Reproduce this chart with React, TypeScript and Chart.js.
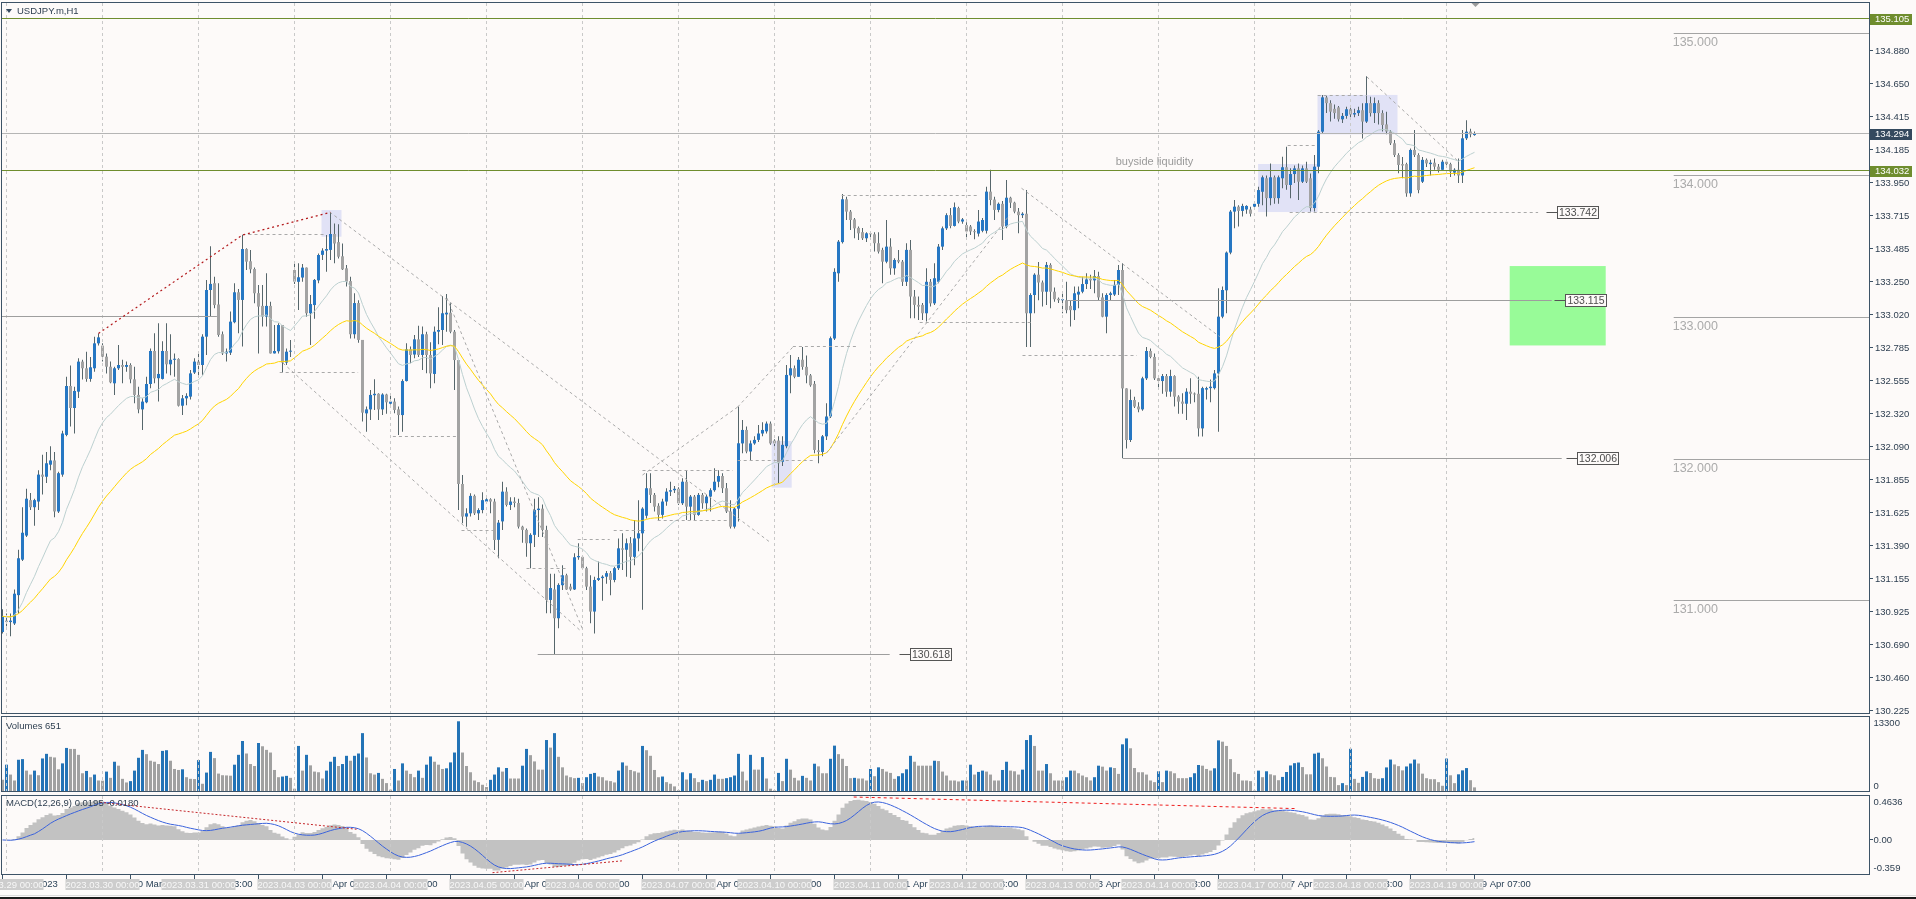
import React, { useEffect, useRef } from "react";
import { Chart, registerables } from "chart.js";

Chart.register(...registerables);

// ---------------- DATA (USDJPY.m, H1) ----------------
const OPEN = [
  130.78, 130.86, 130.85, 130.84, 131.04, 131.29, 131.46, 131.71, 131.66, 131.70,
  131.89, 131.875, 131.96, 131.99, 131.63, 131.89, 132.17, 132.515, 132.36, 132.475,
  132.687, 132.64, 132.565, 132.64, 132.816, 132.80, 132.722, 132.651, 132.534, 132.64,
  132.663, 132.65, 132.663, 132.562, 132.452, 132.35, 132.40, 132.529, 132.762, 132.57,
  132.565, 132.762, 132.668, 132.70, 132.705, 132.376, 132.428, 132.44, 132.61, 132.687,
  132.663, 132.863, 133.192, 133.24, 133.09, 132.88, 132.745, 132.75, 132.965, 133.176,
  133.122, 133.481, 133.395, 133.34, 133.17, 133.08, 133.004, 133.08, 132.745, 132.76,
  132.945, 132.68, 132.757, 133.333, 133.25, 133.28, 133.35, 133.028, 133.086, 133.26,
  133.44, 133.47, 133.475, 133.587, 133.53, 133.43, 133.345, 133.255, 132.88, 133.10,
  132.84, 132.322, 132.35, 132.45, 132.46, 132.35, 132.455, 132.39, 132.405, 132.35,
  132.31, 132.55, 132.774, 132.737, 132.844, 132.734, 132.88, 132.734, 132.60, 132.898,
  132.91, 133.02, 133.032, 132.898, 132.698, 131.824, 131.594, 131.617, 131.74, 131.617,
  131.64, 131.70, 131.716, 131.70, 131.43, 131.56, 131.77, 131.676, 131.70, 131.69,
  131.523, 131.50, 131.406, 131.465, 131.64, 131.65, 131.50, 131.006, 131.08, 130.877,
  131.11, 131.18, 131.10, 131.08, 131.307, 131.31, 131.23, 131.10, 130.924, 131.147,
  131.16, 131.17, 131.195, 131.147, 131.23, 131.37, 131.36, 131.406, 131.31, 131.44,
  131.476, 131.60, 131.794, 131.747, 131.67, 131.606, 131.70, 131.77, 131.78, 131.79,
  131.688, 131.84, 131.664, 131.735, 131.606, 131.747, 131.688, 131.735, 131.78, 131.84,
  131.88, 131.794, 131.63, 131.523, 131.65, 132.11, 132.205, 132.053, 132.11, 132.135,
  132.18, 132.195, 132.25, 132.13, 132.13, 131.98, 132.09, 132.59, 132.64, 132.58,
  132.70, 132.65, 132.59, 132.53, 132.06, 132.05, 132.16, 132.30, 132.85, 133.31,
  133.53, 133.832, 133.745, 133.69, 133.63, 133.60, 133.557, 133.59, 133.585, 133.522,
  133.475, 133.392, 133.498, 133.345, 133.404, 133.392, 133.25, 133.475, 133.146, 133.087,
  133.087, 133.028, 133.25, 133.098, 133.25, 133.498, 133.627, 133.72, 133.644, 133.77,
  133.675, 133.65, 133.64, 133.605, 133.59, 133.61, 133.61, 133.886, 133.83, 133.757,
  133.80, 133.64, 133.843, 133.808, 133.745, 133.72, 133.73, 133.028, 133.157, 133.30,
  133.245, 133.18, 133.369, 133.18, 133.13, 133.12, 133.12, 133.08, 133.05, 133.16,
  133.18, 133.234, 133.27, 133.26, 133.29, 133.14, 133.004, 133.157, 133.16, 133.228,
  133.333, 132.498, 132.134, 132.416, 132.37, 132.35, 132.569, 132.762, 132.72, 132.57,
  132.55, 132.585, 132.475, 132.585, 132.44, 132.405, 132.39, 132.475, 132.46, 132.46,
  132.216, 132.49, 132.50, 132.50, 132.604, 133.004, 133.19, 133.456, 133.745, 133.78,
  133.75, 133.76, 133.76, 133.78, 133.80, 133.885, 133.98, 133.84, 133.987, 133.84,
  133.98, 134.058, 133.933, 134.01, 134.05, 133.956, 134.05, 133.98, 133.77, 134.062,
  134.309, 134.55, 134.51, 134.47, 134.48, 134.396, 134.42, 134.467, 134.43, 134.44,
  134.46, 134.38, 134.51, 134.44, 134.51, 134.44, 134.36, 134.31, 134.227, 134.144,
  134.08, 134.08, 133.874, 134.18, 134.144, 133.956, 134.11, 134.08, 134.09, 134.062,
  134.04, 134.097, 134.08, 134.02, 134.04, 134.00, 134.262, 134.31, 134.285,
];

const HIGH = [
  130.94, 130.91, 130.91, 131.08, 131.36, 131.66, 131.79, 131.76, 131.72, 131.92,
  132.03, 132.05, 132.09, 132.05, 131.91, 132.20, 132.58, 132.66, 132.51, 132.71,
  132.70, 132.757, 132.72, 132.863, 132.886, 132.816, 132.745, 132.687, 132.651, 132.804,
  132.70, 132.687, 132.675, 132.65, 132.51, 132.428, 132.58, 132.78, 132.887, 132.957,
  132.83, 132.957, 132.88, 132.745, 132.71, 132.452, 132.463, 132.628, 132.71, 132.745,
  132.88, 133.263, 133.50, 133.286, 133.24, 132.90, 132.78, 133.04, 133.24, 133.20,
  133.58, 133.486, 133.474, 133.35, 133.227, 133.227, 133.31, 133.11, 132.945, 132.957,
  132.945, 132.78, 132.84, 133.392, 133.38, 133.376, 133.35, 133.157, 133.27, 133.45,
  133.486, 133.58, 133.74, 133.662, 133.655, 133.52, 133.368, 133.286, 133.17, 133.12,
  132.84, 132.37, 132.487, 132.562, 132.463, 132.463, 132.46, 132.45, 132.428, 132.37,
  132.562, 132.816, 132.793, 132.875, 132.94, 132.934, 132.898, 132.823, 132.934, 133.07,
  133.15, 133.164, 133.098, 132.91, 132.698, 131.887, 131.652, 131.758, 131.75, 131.652,
  131.765, 131.723, 131.723, 131.72, 131.57, 131.84, 131.80, 131.73, 131.73, 131.72,
  131.53, 131.51, 131.477, 131.72, 131.73, 131.68, 131.53, 131.19, 131.19, 131.124,
  131.25, 131.19, 131.12, 131.335, 131.406, 131.32, 131.24, 131.18, 131.17, 131.277,
  131.18, 131.21, 131.21, 131.24, 131.44, 131.476, 131.44, 131.45, 131.57, 131.71,
  131.66, 131.90, 131.90, 131.76, 131.688, 131.72, 131.794, 131.84, 131.81, 131.80,
  131.865, 131.92, 131.747, 131.747, 131.76, 131.76, 131.75, 131.794, 131.935, 131.92,
  131.90, 131.83, 131.71, 131.66, 132.37, 132.275, 132.23, 132.13, 132.16, 132.24,
  132.26, 132.264, 132.264, 132.14, 132.16, 132.16, 132.664, 132.734, 132.66, 132.72,
  132.79, 132.73, 132.60, 132.55, 132.135, 132.17, 132.393, 132.864, 133.345, 133.545,
  133.87, 133.85, 133.757, 133.70, 133.64, 133.63, 133.60, 133.605, 133.60, 133.60,
  133.49, 133.686, 133.557, 133.416, 133.475, 133.404, 133.522, 133.545, 133.193, 133.146,
  133.10, 133.345, 133.27, 133.38, 133.517, 133.64, 133.733, 133.77, 133.81, 133.78,
  133.70, 133.67, 133.65, 133.62, 133.757, 133.70, 133.92, 134.04, 133.85, 133.81,
  133.82, 133.968, 133.85, 133.815, 133.77, 133.74, 133.897, 133.169, 133.31, 133.39,
  133.26, 133.39, 133.38, 133.21, 133.14, 133.169, 133.25, 133.12, 133.216, 133.216,
  133.286, 133.31, 133.30, 133.333, 133.32, 133.17, 133.17, 133.18, 133.263, 133.369,
  133.38, 132.50, 132.49, 132.44, 132.40, 132.58, 132.79, 132.78, 132.745, 132.59,
  132.60, 132.60, 132.63, 132.59, 132.45, 132.463, 132.50, 132.569, 132.47, 132.58,
  132.51, 132.51, 132.56, 132.628, 133.204, 133.216, 133.463, 133.757, 133.827, 133.79,
  133.80, 133.79, 133.78, 133.81, 133.92, 134.00, 134.00, 134.085, 134.00, 134.00,
  134.132, 134.203, 134.05, 134.07, 134.085, 134.07, 134.097, 134.014, 134.144, 134.32,
  134.567, 134.56, 134.53, 134.50, 134.49, 134.44, 134.485, 134.48, 134.47, 134.485,
  134.51, 134.70, 134.555, 134.55, 134.53, 134.46, 134.45, 134.32, 134.25, 134.156,
  134.13, 134.09, 134.19, 134.32, 134.156, 134.13, 134.12, 134.11, 134.12, 134.08,
  134.11, 134.11, 134.09, 134.05, 134.12, 134.32, 134.39, 134.33, 134.31,
];

const LOW = [
  130.77, 130.82, 130.75, 130.83, 130.91, 131.28, 131.45, 131.64, 131.53, 131.64,
  131.75, 131.83, 131.92, 131.59, 131.62, 131.875, 132.16, 132.23, 132.18, 132.43,
  132.56, 132.545, 132.545, 132.616, 132.80, 132.687, 132.604, 132.534, 132.452, 132.628,
  132.534, 132.616, 132.534, 132.393, 132.322, 132.205, 132.393, 132.50, 132.534, 132.405,
  132.56, 132.604, 132.59, 132.58, 132.37, 132.31, 132.38, 132.42, 132.60, 132.58,
  132.59, 132.734, 133.004, 133.063, 132.863, 132.734, 132.687, 132.734, 132.957, 132.887,
  132.793, 133.333, 133.31, 133.098, 132.745, 132.934, 132.934, 132.745, 132.745, 132.745,
  132.61, 132.663, 132.72, 133.235, 133.051, 133.25, 133.004, 132.805, 132.99, 133.24,
  133.404, 133.32, 133.404, 133.38, 133.415, 133.333, 133.216, 132.85, 132.85, 132.82,
  132.264, 132.193, 132.275, 132.346, 132.275, 132.31, 132.32, 132.385, 132.322, 132.17,
  132.193, 132.546, 132.675, 132.71, 132.72, 132.628, 132.605, 132.50, 132.534, 132.81,
  132.805, 132.898, 132.887, 132.487, 131.64, 131.547, 131.523, 131.594, 131.606, 131.57,
  131.617, 131.70, 131.617, 131.358, 131.30, 131.50, 131.665, 131.64, 131.66, 131.51,
  131.41, 131.31, 131.23, 131.38, 131.45, 131.45, 130.912, 130.912, 130.618, 130.806,
  131.077, 131.077, 131.07, 131.077, 131.29, 131.217, 131.077, 130.842, 130.77, 131.14,
  131.00, 131.12, 131.04, 131.13, 131.217, 131.217, 131.17, 131.16, 131.25, 131.35,
  130.936, 131.58, 131.69, 131.63, 131.57, 131.58, 131.67, 131.74, 131.76, 131.676,
  131.676, 131.57, 131.57, 131.57, 131.60, 131.65, 131.63, 131.63, 131.77, 131.80,
  131.76, 131.62, 131.51, 131.51, 131.56, 132.04, 132.04, 131.99, 132.10, 132.12,
  132.16, 132.18, 132.10, 132.09, 131.83, 131.95, 132.076, 132.464, 132.57, 132.58,
  132.63, 132.534, 132.51, 132.04, 131.97, 132.02, 132.135, 132.29, 132.84, 133.25,
  133.52, 133.686, 133.616, 133.557, 133.545, 133.545, 133.53, 133.545, 133.463, 133.45,
  133.24, 133.38, 133.30, 133.30, 133.38, 133.22, 133.22, 132.993, 132.993, 132.98,
  132.98, 132.97, 133.075, 133.087, 133.24, 133.475, 133.615, 133.627, 133.64, 133.663,
  133.66, 133.55, 133.58, 133.55, 133.57, 133.60, 133.59, 133.79, 133.686, 133.74,
  133.545, 133.627, 133.77, 133.733, 133.592, 133.70, 132.79, 132.79, 133.028, 133.12,
  133.075, 133.087, 133.063, 133.11, 133.10, 133.028, 133.028, 132.934, 132.98, 133.063,
  133.169, 133.20, 133.20, 133.17, 133.12, 133.00, 132.887, 133.12, 133.15, 133.157,
  132.006, 132.075, 132.12, 132.36, 132.33, 132.34, 132.557, 132.71, 132.557, 132.50,
  132.46, 132.44, 132.44, 132.37, 132.32, 132.32, 132.275, 132.39, 132.40, 132.158,
  132.158, 132.42, 132.40, 132.49, 132.193, 132.993, 133.028, 133.445, 133.627, 133.64,
  133.71, 133.73, 133.71, 133.77, 133.78, 133.79, 133.71, 133.79, 133.80, 133.80,
  133.91, 133.90, 133.84, 133.946, 133.827, 133.946, 133.946, 133.745, 133.745, 134.015,
  134.30, 134.44, 134.38, 134.40, 134.38, 134.37, 134.40, 134.41, 134.41, 134.42,
  134.26, 134.37, 134.415, 134.37, 134.36, 134.31, 134.29, 134.215, 134.13, 134.015,
  133.98, 133.85, 133.85, 134.13, 133.874, 133.946, 134.06, 134.00, 134.04, 134.02,
  134.04, 134.06, 133.99, 134.00, 133.946, 133.946, 134.25, 134.27, 134.28,
];

const CLOSE = [
  130.89, 130.85, 130.86, 131.05, 131.30, 131.48, 131.72, 131.66, 131.71, 131.89,
  131.875, 131.97, 131.99, 131.63, 131.90, 132.18, 132.515, 132.36, 132.48, 132.687,
  132.64, 132.565, 132.647, 132.816, 132.858, 132.722, 132.651, 132.541, 132.64, 132.663,
  132.65, 132.663, 132.562, 132.452, 132.35, 132.405, 132.529, 132.762, 132.569, 132.60,
  132.762, 132.668, 132.70, 132.705, 132.376, 132.428, 132.445, 132.604, 132.687, 132.663,
  132.863, 133.192, 133.235, 133.086, 132.875, 132.745, 132.757, 132.969, 133.176, 133.122,
  133.481, 133.392, 133.338, 133.169, 133.075, 133.004, 133.08, 132.745, 132.762, 132.945,
  132.68, 132.757, 132.762, 133.251, 133.282, 133.35, 133.028, 133.093, 133.263, 133.439,
  133.47, 133.481, 133.587, 133.52, 133.427, 133.338, 133.251, 132.88, 133.10, 132.84,
  132.327, 132.35, 132.452, 132.46, 132.35, 132.455, 132.40, 132.405, 132.346, 132.31,
  132.55, 132.774, 132.734, 132.844, 132.734, 132.88, 132.734, 132.604, 132.898, 132.91,
  133.028, 133.032, 132.898, 132.698, 131.824, 131.594, 131.617, 131.74, 131.617, 131.64,
  131.71, 131.716, 131.70, 131.429, 131.551, 131.77, 131.676, 131.70, 131.69, 131.523,
  131.50, 131.406, 131.465, 131.641, 131.65, 131.50, 131.006, 131.09, 130.877, 131.112,
  131.18, 131.08, 131.08, 131.307, 131.316, 131.23, 131.10, 130.924, 131.147, 131.16,
  131.17, 131.195, 131.147, 131.23, 131.37, 131.36, 131.406, 131.31, 131.44, 131.476,
  131.65, 131.794, 131.747, 131.664, 131.606, 131.70, 131.77, 131.78, 131.79, 131.688,
  131.84, 131.664, 131.735, 131.606, 131.747, 131.688, 131.735, 131.78, 131.84, 131.88,
  131.794, 131.63, 131.523, 131.65, 132.111, 132.205, 132.053, 132.11, 132.135, 132.18,
  132.205, 132.25, 132.11, 132.11, 131.97, 132.10, 132.593, 132.64, 132.58, 132.70,
  132.65, 132.59, 132.52, 132.064, 132.05, 132.16, 132.30, 132.852, 133.32, 133.533,
  133.832, 133.745, 133.686, 133.627, 133.592, 133.557, 133.592, 133.585, 133.522, 133.463,
  133.392, 133.498, 133.345, 133.404, 133.392, 133.25, 133.475, 133.146, 133.087, 133.075,
  133.028, 133.25, 133.098, 133.275, 133.498, 133.627, 133.72, 133.644, 133.776, 133.675,
  133.69, 133.605, 133.605, 133.60, 133.675, 133.686, 133.886, 133.827, 133.757, 133.80,
  133.64, 133.843, 133.808, 133.745, 133.72, 133.73, 133.028, 133.157, 133.30, 133.245,
  133.18, 133.369, 133.18, 133.127, 133.12, 133.125, 133.05, 133.05, 133.169, 133.18,
  133.234, 133.267, 133.26, 133.29, 133.14, 133.004, 133.157, 133.169, 133.228, 133.333,
  132.498, 132.134, 132.416, 132.37, 132.35, 132.569, 132.762, 132.72, 132.569, 132.55,
  132.585, 132.475, 132.585, 132.44, 132.405, 132.39, 132.475, 132.46, 132.455, 132.216,
  132.50, 132.50, 132.51, 132.604, 133.004, 133.192, 133.456, 133.745, 133.78, 133.75,
  133.785, 133.785, 133.73, 133.80, 133.897, 133.987, 133.84, 133.987, 133.84, 133.987,
  134.058, 133.933, 134.01, 134.05, 133.956, 134.05, 133.956, 133.77, 134.062, 134.309,
  134.551, 134.51, 134.45, 134.44, 134.396, 134.42, 134.467, 134.43, 134.44, 134.46,
  134.38, 134.51, 134.44, 134.51, 134.44, 134.356, 134.31, 134.227, 134.144, 134.074,
  134.07, 133.874, 134.18, 134.144, 133.897, 134.11, 134.085, 134.09, 134.062, 134.04,
  134.097, 134.08, 134.027, 134.04, 134.00, 134.262, 134.309, 134.29, 134.294,
];

const VOLUME = [
  2010, 4730, 2955, 1890, 5615, 5730, 3665, 2955, 3665, 2835,
  5850, 6680, 6145, 6030, 3900, 4965, 7740, 7565, 7565, 6500,
  3190, 3605, 2480, 2955, 1890, 1850, 3490, 2365, 5260, 4550,
  2185, 1535, 1775, 3665, 5970, 7390, 6620, 5440, 5260, 4845,
  7210, 7330, 5440, 3960, 3780, 3900, 2480, 2185, 2150, 5555,
  1300, 3310, 7030, 5910, 3130, 2835, 2800, 2750, 4730, 6500,
  8985, 6740, 4845, 4490, 8630, 8040, 7390, 6915, 3780, 2480,
  2600, 2720, 2365, 415, 8100, 3665, 6500, 4610, 3490, 3370,
  2245, 3665, 5260, 6145, 4490, 4845, 6325, 5440, 6325, 6740,
  10400, 6030, 3190, 2955, 3250, 2185, 1420, 240, 3960, 1890,
  4965, 3665, 3075, 2480, 3665, 2365, 4730, 6205, 5260, 4730,
  3960, 4080, 5140, 6915, 12530, 6915, 4490, 3370, 1890, 1595,
  1120, 710, 2010, 2955, 4255, 3490, 4135, 2245, 2245, 2245,
  4550, 7565, 6440, 5320, 3840, 3840, 9160, 7800, 10400, 6145,
  4255, 2780, 2480, 2305, 2365, 1420, 2480, 3075, 3250, 2600,
  2480, 1890, 1775, 1535, 3665, 5140, 4550, 3780, 3545, 3310,
  8100, 7330, 6325, 3780, 2480, 2600, 1595, 1300, 830, 150,
  3370, 2070, 3190, 2305, 1595, 2010, 1775, 2010, 2955, 2185,
  2185, 2305, 2480, 2780, 6680, 3490, 1890, 6500, 3840, 3840,
  6090, 2245, 415, 120, 3250, 1775, 5790, 3840, 2365, 1890,
  2720, 2365, 1890, 4905, 4430, 3190, 3190, 5790, 8155, 6620,
  5790, 4490, 2305, 2365, 2245, 2245, 1890, 3960, 2660, 4255,
  3960, 3490, 3250, 2185, 2660, 3190, 3900, 6325, 5260, 4550,
  4550, 4550, 4550, 5440, 5380, 3490, 2780, 1890, 1890, 1715,
  1890, 1890, 4730, 2955, 3430, 3665, 3490, 2955, 1890, 1890,
  3780, 5260, 3665, 3545, 2955, 3840, 9160, 10050, 8100, 3665,
  3665, 4845, 3190, 1890, 1890, 1890, 2480, 3665, 3665, 3190,
  2780, 2480, 1890, 2480, 4550, 4375, 3665, 4255, 4135, 3075,
  8390, 9455, 7680, 4135, 3370, 3370, 2955, 1890, 1595, 3545,
  1595, 3665, 3545, 3190, 2305, 2305, 2305, 2480, 3190, 4670,
  4550, 3960, 3665, 4080, 9100, 8865, 8100, 5730, 3370, 3075,
  1890, 1890, 1775, 100, 3665, 2480, 3545, 3000, 2825, 1940,
  2530, 3410, 4590, 5000, 5120, 4300, 3000, 3000, 6710, 6885,
  5885, 4410, 2530, 2470, 1060, 1410, 1060, 7590, 2180, 1470,
  2530, 3530, 3240, 2300, 2180, 2300, 4240, 5650, 4770, 4470,
  3710, 4410, 4940, 5650, 4940, 3120, 2300, 2120, 2120, 1590,
  940, 5830, 2825, 1410, 3000, 3710, 4120, 1940, 651,
];

// right price-axis tick labels
const PRICE_TICKS = [
  134.88, 134.65, 134.415, 134.185, 133.95, 133.715, 133.485, 133.25, 133.02, 132.785,
  132.555, 132.32, 132.09, 131.855, 131.625, 131.39, 131.155, 130.925, 130.69, 130.46, 130.225,
];
// trading days (period separators at bar 1 + 24k)
const DAYS = [
  "2023.03.29", "2023.03.30", "2023.03.31", "2023.04.03", "2023.04.04", "2023.04.05",
  "2023.04.06", "2023.04.07", "2023.04.10", "2023.04.11", "2023.04.12", "2023.04.13",
  "2023.04.14", "2023.04.17", "2023.04.18", "2023.04.19",
];
const FIRST_BAR_LABEL = "28 Mar 2023";
const MONTHS: Record<string, string> = { "03": "Mar", "04": "Apr" };

const GREEN_LEVELS = [135.105, 134.032];
const BID_LEVEL = 134.294;
const ROUND_LEVELS = [135, 134, 133, 132, 131];
const ROUND_LEVEL_START = 417.8;

// dashed structure lines: [bar0, price0, bar1, price1]
const DASHED_LINES: number[][] = [
  [60, 133.587, 81, 133.587],
  [81.8, 133.742, 191.8, 131.415],
  [111.1, 133.136, 145.1, 130.794],
  [70.1, 132.677, 144.3, 130.794],
  [69.3, 132.612, 88.9, 132.612],
  [97.6, 132.162, 113.6, 132.162],
  [114.75, 131.496, 122.6, 131.496],
  [131, 131.23, 141, 131.23],
  [143.8, 131.43, 151.8, 131.43],
  [152.8, 131.495, 160.6, 131.495],
  [160, 131.918, 182.6, 131.918],
  [163.8, 131.565, 181.3, 131.565],
  [183.8, 131.99, 202.6, 131.99],
  [160, 131.887, 183.8, 132.367],
  [183.8, 132.367, 197.6, 132.79],
  [197.6, 132.792, 213.6, 132.792],
  [206, 132.043, 251.8, 133.722],
  [209.8, 133.862, 243.6, 133.862],
  [229.3, 132.965, 257.6, 132.965],
  [254.75, 133.91, 304.3, 132.863],
  [255, 132.727, 283.6, 132.727],
  [321.3, 134.208, 328.8, 134.208],
  [321.8, 133.742, 383.9, 133.742],
  [328.8, 134.567, 341.1, 134.567],
  [341.1, 134.695, 363.6, 134.109],
];
const RED_DOTTED = [[24, 132.886], [60, 133.58], [82, 133.74]];
// solid grey levels: [fromBar, toBar, price]
const SOLID_LEVELS = [
  [-1, 53.6, 133.005],
  [133.8, 221.8, 130.618],
  [266.1, 387.3, 133.115],
  [280.1, 389.8, 132.006],
];
// price tags: [bar of box left edge, price]
const PRICE_TAGS = [
  [226.8, 130.618],
  [388.6, 133.742],
  [390.6, 133.115],
  [393.6, 132.006],
];
// lavender boxes: [bar0, bar1, priceLow, priceHigh]
const HIGHLIGHT_BOXES = [
  [79.75, 84.75, 133.568, 133.756],
  [192.3, 197.3, 131.798, 132.127],
  [313.9, 328.75, 133.742, 134.081],
  [328.75, 348.75, 134.29, 134.568],
];
const TARGET_ZONE = [376.8, 400.8, 132.801, 133.361];
const NOTE_TEXT = "buyside liquidity";
const NOTE_POS = [278.3, 134.077];
// MACD divergence lines: [bar0, value0, bar1, value1]
const MACD_RED_LINES = [
  [24.4, 0.397, 88.5, 0.113],
  [122.5, -0.345, 155, -0.22],
  [212.8, 0.453, 323.1, 0.331],
];
const MACD_SCALE = [-0.359, 0.4636];
const VOLUME_MAX = 13300;

// ---------------- LAYOUT / STYLE ----------------
const W = 1916;
const H = 899;
const PLOT_LEFT = 2;
const PLOT_RIGHT = 1869;
const BAR_PX = 4;
const X_MIN = -0.125;
const X_MAX = X_MIN + (PLOT_RIGHT - PLOT_LEFT) / BAR_PX;
const PRICE_MAX = 135.2164;
const PRICE_MIN = 130.2086;

const BG = "#fdfaf9";
const FRAME = "#3d5367";
const AXIS_TEXT = "#2d3e50";
const BULL = "#2677c3";
const BEAR = "#a3a3a3";
const WICK = "#56666b";
const SEP = "#c9c9c9";
const FONT = '"Liberation Sans", Arial, sans-serif';

const P_TOP = 0, P_H = 715;
const V_TOP = 715, V_H = 78;
const M_TOP = 793, M_H = 106;

// ---------------- helpers ----------------
function ema(vals: number[], n: number) {
  const k = 2 / (n + 1);
  const out: number[] = [];
  vals.forEach((v, i) => out.push(i === 0 ? v : v * k + out[i - 1] * (1 - k)));
  return out;
}
function sma(vals: number[], n: number) {
  return vals.map((_, i) => {
    const s = Math.max(0, i - n + 1);
    let sum = 0;
    for (let j = s; j <= i; j++) sum += vals[j];
    return sum / (i - s + 1);
  });
}
function txt(ctx: any, s: string, x: number, y: number, size: number, color: string, align = "left", base = "middle") {
  ctx.save();
  ctx.font = `${size}px ${FONT}`;
  ctx.fillStyle = color;
  ctx.textAlign = align;
  ctx.textBaseline = base;
  ctx.fillText(s, x, y);
  ctx.restore();
}
function clipArea(ctx: any, a: any) {
  ctx.beginPath();
  ctx.rect(a.left, a.top, a.right - a.left, a.bottom - a.top);
  ctx.clip();
}
function drawFrame(ctx: any, a: any) {
  ctx.save();
  ctx.strokeStyle = FRAME;
  ctx.lineWidth = 1;
  ctx.strokeRect(a.left - 0.5, a.top - 0.5, a.right - a.left + 1, a.bottom - a.top + 1);
  ctx.restore();
}
function drawSeparators(chart: any) {
  const { ctx, chartArea: a, scales } = chart;
  ctx.save();
  ctx.strokeStyle = SEP;
  ctx.lineWidth = 1;
  ctx.setLineDash([3, 3]);
  DAYS.forEach((_, k) => {
    const x = Math.round(scales.x.getPixelForValue(1 + 24 * k) - 0.5) + 0.5;
    ctx.beginPath();
    ctx.moveTo(x, a.top);
    ctx.lineTo(x, a.bottom);
    ctx.stroke();
  });
  ctx.restore();
}
function seg(ctx: any, x0: number, y0: number, x1: number, y1: number) {
  ctx.beginPath();
  ctx.moveTo(x0, y0);
  ctx.lineTo(x1, y1);
  ctx.stroke();
}
function barLabel(i: number) {
  if (i === 0) return FIRST_BAR_LABEL;
  const k = Math.floor((i - 1) / 24);
  const h = (i - 1) % 24;
  const [, mm, dd] = DAYS[k].split(".");
  return `${parseInt(dd, 10)} ${MONTHS[mm]} ${String(h).padStart(2, "0")}:00`;
}

function baseOptions(yMin: number, yMax: number, padding: any) {
  return {
    responsive: false,
    animation: false,
    devicePixelRatio: 1,
    events: [],
    layout: { padding },
    plugins: { legend: { display: false }, tooltip: { enabled: false } },
    scales: {
      x: { type: "linear", min: X_MIN, max: X_MAX, offset: false, display: false },
      y: { type: "linear", min: yMin, max: yMax, display: false, beginAtZero: false },
    },
  };
}

// ---------------- PRICE PANEL ----------------
function buildPrice(canvas: HTMLCanvasElement) {
  const idx = CLOSE.map((_, i) => i);
  const e20 = ema(CLOSE, 20);
  const e50 = ema(CLOSE, 50);
  const plugin = {
    id: "pricePanel",
    beforeDatasetsDraw(chart: any) {
      const { ctx, chartArea: a, scales } = chart;
      const X = (v: number) => scales.x.getPixelForValue(v);
      const Y = (v: number) => scales.y.getPixelForValue(v);
      ctx.save();
      clipArea(ctx, a);
      ctx.fillStyle = "#e1e2f6";
      HIGHLIGHT_BOXES.forEach(([b0, b1, lo, hi]) => {
        ctx.fillRect(X(b0), Y(hi), X(b1) - X(b0), Y(lo) - Y(hi));
      });
      const [z0, z1, zl, zh] = TARGET_ZONE;
      ctx.fillStyle = "#98fb98";
      ctx.fillRect(X(z0), Y(zh), X(z1) - X(z0), Y(zl) - Y(zh));
      ctx.restore();
    },
    afterDatasetsDraw(chart: any) {
      const { ctx, chartArea: a, scales } = chart;
      const X = (v: number) => scales.x.getPixelForValue(v);
      const Y = (v: number) => scales.y.getPixelForValue(v);
      const cy = (v: number) => Math.round(Y(v) - 0.5) + 0.5;
      drawSeparators(chart);
      ctx.save();
      clipArea(ctx, a);
      ctx.lineWidth = 1;
      ctx.strokeStyle = "#a4a4a4";
      ROUND_LEVELS.forEach((p) => {
        const y = cy(p);
        seg(ctx, X(ROUND_LEVEL_START), y, a.right, y);
        txt(ctx, p.toFixed(3), X(ROUND_LEVEL_START) - 1, y + 12, 12.5, "#ababab", "left", "alphabetic");
      });
      ctx.strokeStyle = "#9e9e9e";
      SOLID_LEVELS.forEach(([b0, b1, p]) => seg(ctx, X(b0), cy(p), X(b1), cy(p)));
      ctx.strokeStyle = "#a9a9a9";
      ctx.setLineDash([3, 3]);
      DASHED_LINES.forEach(([b0, p0, b1, p1]) => {
        if (p0 === p1) seg(ctx, X(b0), cy(p0), X(b1), cy(p1));
        else seg(ctx, X(b0), Y(p0), X(b1), Y(p1));
      });
      ctx.strokeStyle = "#b3191c";
      ctx.lineWidth = 1.2;
      ctx.setLineDash([2, 3]);
      ctx.beginPath();
      RED_DOTTED.forEach(([b, p], i) => (i === 0 ? ctx.moveTo(X(b), Y(p)) : ctx.lineTo(X(b), Y(p))));
      ctx.stroke();
      ctx.setLineDash([]);
      ctx.lineWidth = 1;
      ctx.strokeStyle = "#b5b5b5";
      seg(ctx, a.left, cy(BID_LEVEL), a.right, cy(BID_LEVEL));
      ctx.strokeStyle = "#6f8d2e";
      GREEN_LEVELS.forEach((p) => seg(ctx, a.left, cy(p), a.right, cy(p)));
      PRICE_TAGS.forEach(([b, p]) => {
        const x = Math.round(X(b)) + 0.5;
        const y = cy(p);
        ctx.strokeStyle = "#555555";
        seg(ctx, x - 11, y, x, y);
        ctx.fillStyle = BG;
        ctx.fillRect(x, y - 6, 41, 12);
        ctx.strokeRect(x, y - 6, 41, 12);
        txt(ctx, p.toFixed(3), x + 20.5, y + 0.5, 10.5, "#4d4d4d", "center");
      });
      txt(ctx, NOTE_TEXT, X(NOTE_POS[0]), Y(NOTE_POS[1]), 11, "#9a9a9a", "left", "alphabetic");
      ctx.restore();
    },
    afterDraw(chart: any) {
      const { ctx, chartArea: a, scales } = chart;
      const Y = (v: number) => scales.y.getPixelForValue(v);
      drawFrame(ctx, a);
      ctx.save();
      ctx.strokeStyle = FRAME;
      PRICE_TICKS.forEach((p) => {
        const y = Math.round(Y(p) - 0.5) + 0.5;
        seg(ctx, a.right + 1, y, a.right + 4, y);
        txt(ctx, p.toFixed(3), a.right + 6, y + 0.5, 9.5, AXIS_TEXT);
      });
      const tags: [number, string][] = [
        [GREEN_LEVELS[0], "#6f8d2e"],
        [BID_LEVEL, "#34495e"],
        [GREEN_LEVELS[1], "#6f8d2e"],
      ];
      tags.forEach(([p, c]) => {
        const y = Math.round(Y(p));
        ctx.fillStyle = c;
        ctx.fillRect(a.right + 1, y - 5, 42, 11);
        txt(ctx, p.toFixed(3), a.right + 6, y + 0.5, 9.5, "#ffffff");
      });
      ctx.fillStyle = "#34495e";
      ctx.beginPath();
      ctx.moveTo(6, 9);
      ctx.lineTo(12, 9);
      ctx.lineTo(9, 13);
      ctx.closePath();
      ctx.fill();
      txt(ctx, "USDJPY.m,H1", 17, 11.5, 9.5, AXIS_TEXT);
      const mx = scales.x.getPixelForValue(CLOSE.length - 1) + 1;
      ctx.fillStyle = "#9a9a9a";
      ctx.beginPath();
      ctx.moveTo(mx - 4, 3);
      ctx.lineTo(mx + 4, 3);
      ctx.lineTo(mx, 7);
      ctx.closePath();
      ctx.fill();
      ctx.restore();
    },
  };
  return new Chart(canvas, {
    type: "bar",
    data: {
      datasets: [
        {
          type: "line",
          data: idx.map((i) => ({ x: i, y: e50[i] })),
          borderColor: "#ffd400",
          borderWidth: 1,
          pointRadius: 0,
          order: 0,
        },
        {
          type: "line",
          data: idx.map((i) => ({ x: i, y: e20[i] })),
          borderColor: "#bcd0d0",
          borderWidth: 1,
          pointRadius: 0,
          order: 0,
        },
        {
          type: "bar",
          data: idx.map((i) => ({ x: i, y: [OPEN[i], CLOSE[i]] })),
          backgroundColor: idx.map((i) => (CLOSE[i] >= OPEN[i] ? BULL : BEAR)),
          barThickness: 3,
          minBarLength: 1,
          grouped: false,
          inflateAmount: 0,
          order: 1,
        },
        {
          type: "bar",
          data: idx.map((i) => ({ x: i, y: [LOW[i], HIGH[i]] })),
          backgroundColor: WICK,
          barThickness: 1,
          grouped: false,
          inflateAmount: 0,
          order: 2,
        },
      ],
    },
    options: baseOptions(PRICE_MIN, PRICE_MAX, { left: PLOT_LEFT, right: W - PLOT_RIGHT, top: 3, bottom: P_H - 713 }) as any,
    plugins: [plugin],
  } as any);
}

// ---------------- VOLUME PANEL ----------------
function buildVolume(canvas: HTMLCanvasElement) {
  const idx = VOLUME.map((_, i) => i);
  const plugin = {
    id: "volPanel",
    afterDatasetsDraw(chart: any) {
      drawSeparators(chart);
    },
    afterDraw(chart: any) {
      const { ctx, chartArea: a } = chart;
      drawFrame(ctx, a);
      txt(ctx, String(VOLUME_MAX), a.right + 4.5, a.top + 6.5, 9.5, AXIS_TEXT);
      txt(ctx, "0", a.right + 4.5, a.bottom - 5, 9.5, AXIS_TEXT);
      txt(ctx, `Volumes ${VOLUME[VOLUME.length - 1]}`, 6, a.top + 9, 9.5, AXIS_TEXT);
    },
  };
  return new Chart(canvas, {
    type: "bar",
    data: {
      datasets: [
        {
          type: "bar",
          data: idx.map((i) => ({ x: i, y: VOLUME[i] })),
          backgroundColor: idx.map((i) => (i > 0 && VOLUME[i] > VOLUME[i - 1] ? "#2373b6" : "#a1a1a1")),
          barThickness: 3,
          grouped: false,
          inflateAmount: 0,
        },
      ],
    },
    options: baseOptions(0, VOLUME_MAX, { left: PLOT_LEFT, right: W - PLOT_RIGHT, top: 2, bottom: 2 }) as any,
    plugins: [plugin],
  } as any);
}

// ---------------- MACD PANEL + TIME AXIS ----------------
function buildMacd(canvas: HTMLCanvasElement) {
  const idx = CLOSE.map((_, i) => i);
  const e12 = ema(CLOSE, 12);
  const e26 = ema(CLOSE, 26);
  const main = idx.map((i) => e12[i] - e26[i]);
  const signal = sma(main, 9);
  const plugin = {
    id: "macdPanel",
    afterDatasetsDraw(chart: any) {
      const { ctx, chartArea: a, scales } = chart;
      const X = (v: number) => scales.x.getPixelForValue(v);
      const Y = (v: number) => scales.y.getPixelForValue(v);
      drawSeparators(chart);
      ctx.save();
      clipArea(ctx, a);
      ctx.lineWidth = 1;
      MACD_RED_LINES.forEach(([b0, v0, b1, v1], k) => {
        ctx.strokeStyle = k < 2 ? "#c4262a" : "#ee1c1c";
        ctx.setLineDash(k < 2 ? [2, 2] : [3, 3]);
        seg(ctx, X(b0), Y(v0), X(b1), Y(v1));
      });
      ctx.restore();
    },
    afterDraw(chart: any) {
      const { ctx, chartArea: a, scales } = chart;
      const X = (v: number) => scales.x.getPixelForValue(v);
      const Y = (v: number) => scales.y.getPixelForValue(v);
      drawFrame(ctx, a);
      ctx.save();
      ctx.strokeStyle = FRAME;
      const zy = Math.round(Y(0) - 0.5) + 0.5;
      seg(ctx, a.right + 1, zy, a.right + 4, zy);
      txt(ctx, String(MACD_SCALE[1]), a.right + 4.5, a.top + 6, 9.5, AXIS_TEXT);
      txt(ctx, "0.00", a.right + 4.5, zy + 0.5, 9.5, AXIS_TEXT);
      txt(ctx, String(MACD_SCALE[0]), a.right + 4.5, a.bottom - 5.5, 9.5, AXIS_TEXT);
      txt(ctx, "MACD(12,26,9) 0.0195 -0.0180", 6, a.top + 7.5, 9.5, AXIS_TEXT);
      for (let i = 0; i < CLOSE.length; i += 16) {
        const x = Math.round(X(i) - 0.5) + 0.5;
        seg(ctx, x, a.bottom + 1, x, a.bottom + 5);
        txt(ctx, barLabel(i), x + 2, a.bottom + 10.5, 9.5, "#2c4358");
      }
      DAYS.forEach((d, k) => {
        const cx = X(1 + 24 * k);
        ctx.fillStyle = "#cdcdcd";
        ctx.fillRect(cx - 37, a.bottom + 5, 74, 11);
        txt(ctx, `${d} 00:00`, cx, a.bottom + 11, 9.5, "#f7f7f7", "center");
      });
      ctx.fillStyle = "#dcdcdc";
      ctx.fillRect(0, M_H - 4, W, 1);
      ctx.fillStyle = "#1c1c1c";
      ctx.fillRect(0, M_H - 2, W, 2);
      ctx.restore();
    },
  };
  return new Chart(canvas, {
    type: "bar",
    data: {
      datasets: [
        {
          type: "line",
          data: idx.map((i) => ({ x: i, y: signal[i] })),
          borderColor: "#3b63dc",
          borderWidth: 1,
          pointRadius: 0,
          order: 0,
        },
        {
          // histogram as a stepped, filled series: contiguous 1-bar-wide columns
          type: "line",
          data: idx.map((i) => ({ x: i, y: main[i] })),
          stepped: "middle",
          fill: "origin",
          backgroundColor: "#c2c2c2",
          borderColor: "#c2c2c2",
          borderWidth: 0,
          pointRadius: 0,
          order: 1,
        },
      ],
    },
    options: baseOptions(MACD_SCALE[0], MACD_SCALE[1], { left: PLOT_LEFT, right: W - PLOT_RIGHT, top: 3, bottom: M_H - 81 }) as any,
    plugins: [plugin],
  } as any);
}

export default function App() {
  const priceRef = useRef<HTMLCanvasElement>(null);
  const volRef = useRef<HTMLCanvasElement>(null);
  const macdRef = useRef<HTMLCanvasElement>(null);
  useEffect(() => {
    const charts = [
      buildPrice(priceRef.current as HTMLCanvasElement),
      buildVolume(volRef.current as HTMLCanvasElement),
      buildMacd(macdRef.current as HTMLCanvasElement),
    ];
    return () => charts.forEach((c) => c.destroy());
  }, []);
  return (
    <div style={{ position: "fixed", left: 0, top: 0, width: W, height: H, background: BG, overflow: "hidden" }}>
      <canvas ref={priceRef} width={W} height={P_H} style={{ position: "absolute", left: 0, top: P_TOP }} />
      <canvas ref={volRef} width={W} height={V_H} style={{ position: "absolute", left: 0, top: V_TOP }} />
      <canvas ref={macdRef} width={W} height={M_H} style={{ position: "absolute", left: 0, top: M_TOP }} />
    </div>
  );
}
